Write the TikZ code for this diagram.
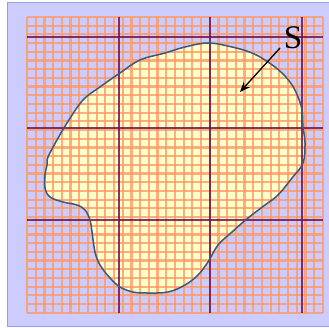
\documentclass[tikz,border=0pt]{standalone}
\usepackage{fontspec}
\setmainfont{Liberation Serif}
\usetikzlibrary{arrows.meta}
\definecolor{lav}{HTML}{CCCCFF}
\definecolor{lavborder}{HTML}{9999EE}
\definecolor{blobfill}{HTML}{FFFFCC}
\definecolor{gridorange}{HTML}{FF9966}
\definecolor{thickline}{HTML}{6E1450}
\definecolor{outline}{HTML}{3A5A7A}
\tikzset{
  finegrid/.style={draw=gridorange, draw opacity=0.8, line width=2.2pt},
  majorline/.style={draw=thickline, line width=2.6pt, draw opacity=0.85},
  blobline/.style={draw=outline, line width=1.5pt},
}
\begin{document}
\begin{tikzpicture}[x=1pt,y=-1pt]
\useasboundingbox (0,0) rectangle (329,328);
\clip (0,0) rectangle (329,328);
% background panel
\fill[white] (0,0) rectangle (329,328);
\draw[fill=lav, draw=lavborder, line width=1.5pt] (7.5,2.5) rectangle (340,326.5);
% blob fill
\def\blobpath{plot[smooth cycle, tension=0.6] coordinates {
 (165,53) (185,47) (208,43) (232,47) (252,53) (268,62) (282,73) (292,85)
 (298,97) (302,110) (303,127) (305,143) (303,163) (292,178) (278,195)
 (265,205) (248,218) (232,232) (218,245) (208,262) (198,275) (185,285)
 (168,292) (147,293) (133,292) (120,287) (110,278) (100,265) (95,252)
 (92,232) (90,220) (85,210) (77,205) (63,202) (50,197) (45,188) (45,175)
 (47,165) (48,157) (57,140) (67,123) (83,100) (100,87) (120,73) (140,60)}}
\fill[blobfill] \blobpath;
% fine grid
\foreach \k in {0,...,34}{
  \draw[finegrid] ({27+8.7*\k},17) -- ({27+8.7*\k},312.8);
  \draw[finegrid] (27,{17+8.7*\k}) -- (322.8,{17+8.7*\k});
}
% major lines
\foreach \x in {119,210,302}{
  \draw[majorline] (\x,17) -- (\x,313);
}
\foreach \y in {37,128,220}{
  \draw[majorline] (27,\y) -- (322.8,\y);
}
% blob outline
\draw[blobline] \blobpath;
% label and arrow
\node[inner sep=0pt, font=\fontsize{33}{33}\selectfont] (S) at (293,38) {S};
\coordinate (atail) at (280,48);
\coordinate (ahead) at (240,92);
\draw[line width=1.3pt, -{Stealth[length=10pt,width=8pt]}] (atail) -- (ahead);
\end{tikzpicture}
\end{document}
